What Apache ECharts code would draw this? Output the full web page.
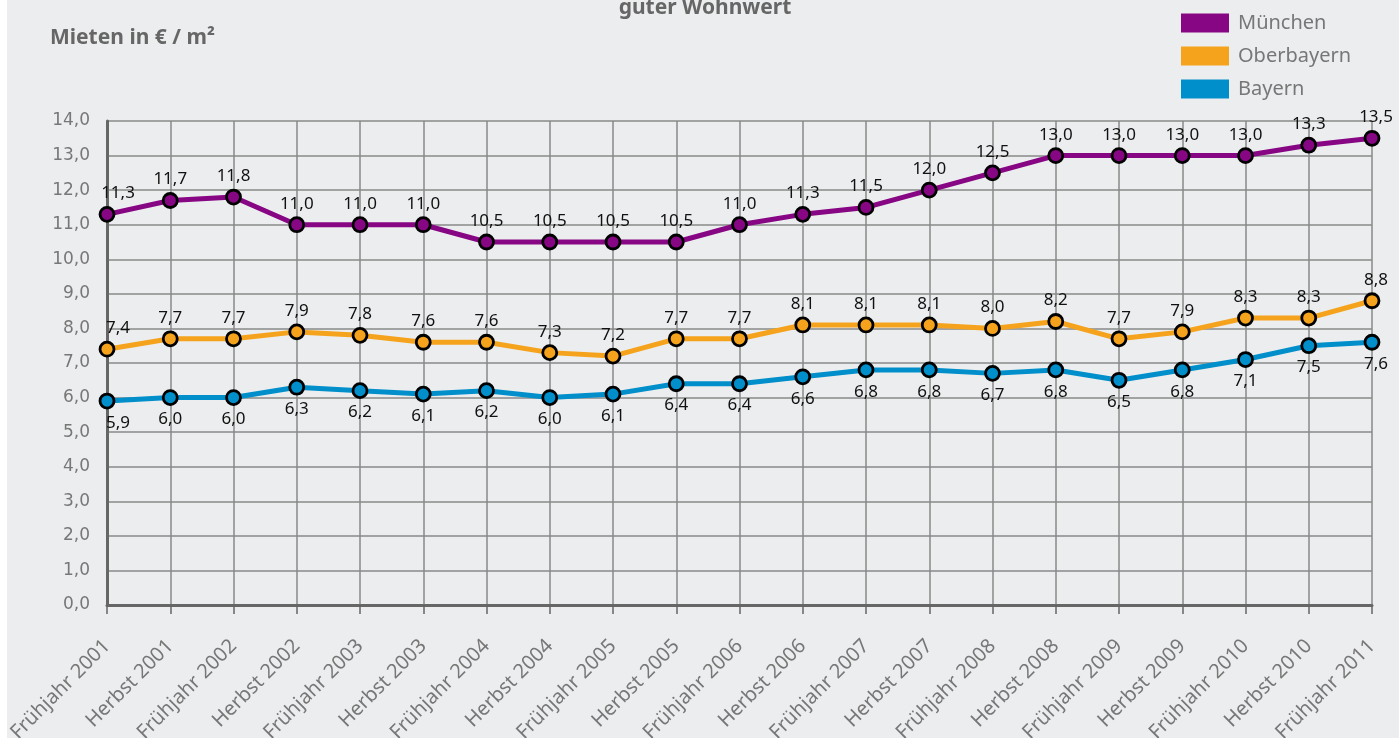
<!DOCTYPE html>
<html>
<head>
<meta charset="utf-8">
<script src="https://cdn.jsdelivr.net/npm/echarts@6/dist/echarts.min.js"></script>
<style>
  html,body{margin:0;padding:0;background:#fff;}
  #chart{position:absolute;left:7px;top:0;width:1392px;height:738px;background:#ecedef;}
</style>
</head>
<body>
<div id="chart"></div>
<script>
const chart=echarts.init(document.getElementById('chart'));

const periods=['Frühjahr 2001','Herbst 2001','Frühjahr 2002','Herbst 2002','Frühjahr 2003','Herbst 2003','Frühjahr 2004','Herbst 2004','Frühjahr 2005','Herbst 2005','Frühjahr 2006','Herbst 2006','Frühjahr 2007','Herbst 2007','Frühjahr 2008','Herbst 2008','Frühjahr 2009','Herbst 2009','Frühjahr 2010','Herbst 2010','Frühjahr 2011'];
const muenchen=[11.3,11.7,11.8,11.0,11.0,11.0,10.5,10.5,10.5,10.5,11.0,11.3,11.5,12.0,12.5,13.0,13.0,13.0,13.0,13.3,13.5];
const oberbayern=[7.4,7.7,7.7,7.9,7.8,7.6,7.6,7.3,7.2,7.7,7.7,8.1,8.1,8.1,8.0,8.2,7.7,7.9,8.3,8.3,8.8];
const bayern=[5.9,6.0,6.0,6.3,6.2,6.1,6.2,6.0,6.1,6.4,6.4,6.6,6.8,6.8,6.7,6.8,6.5,6.8,7.1,7.5,7.6];

const font='"Noto Sans", sans-serif';
const komma=v=>v.toFixed(1).replace('.',',');

function line(name,data,color,pos,dist){
  return {
    name:name,
    type:'line',
    data:data,
    symbol:'circle',
    symbolSize:14,
    lineStyle:{width:5,color:color},
    itemStyle:{color:color,borderColor:'#000',borderWidth:2.8},
    label:{
      show:true,
      position:pos,
      distance:dist,
      color:'#111',
      fontSize:17,
      fontFamily:font,
      formatter:p=>komma(p.value)
    },
    // erste Beschriftung etwas nach rechts, wie im Original
    labelLayout:p=>p.dataIndex===0?{dx:11}:(p.dataIndex===data.length-1?{dx:4}:{}),
    emphasis:{disabled:true},
    z:3
  };
}

chart.setOption({
  animation:false,
  title:[
    {text:'guter Wohnwert',left:693,top:-7,textAlign:'center',
      textStyle:{fontSize:21,fontWeight:'bold',color:'#666',fontFamily:font}},
    {text:'Mieten in € / m²',left:38,top:23,
      textStyle:{fontSize:21,fontWeight:'bold',color:'#666',fontFamily:font}}
  ],
  legend:{
    orient:'vertical',
    left:1169,
    top:8,
    icon:'rect',
    itemWidth:48,
    itemHeight:19,
    itemGap:13,
    itemStyle:{borderWidth:0},
    textStyle:{fontSize:20,lineHeight:19,color:'#777',fontFamily:font,padding:[0,0,0,4]},
    data:['München','Oberbayern','Bayern']
  },
  grid:{left:100,right:27,top:121,bottom:133,outerBoundsMode:'none'},
  xAxis:{
    type:'category',
    data:periods,
    boundaryGap:false,
    axisLine:{lineStyle:{color:'#666',width:3}},
    axisTick:{show:true,length:9,lineStyle:{color:'#666',width:1.5}},
    axisLabel:{rotate:45,interval:0,margin:38,fontSize:20,color:'#777',fontFamily:font},
    splitLine:{show:true,interval:0,lineStyle:{color:'#888',width:1.5}}
  },
  yAxis:{
    type:'value',
    min:0,
    max:14,
    interval:1,
    axisLine:{show:true,lineStyle:{color:'#666',width:3}},
    axisTick:{show:false},
    axisLabel:{margin:17,fontSize:17,color:'#777',fontFamily:'"DejaVu Sans", sans-serif',formatter:v=>komma(v)},
    splitLine:{lineStyle:{color:'#888',width:1.5}}
  },
  series:[
    line('München',muenchen,'#870683','top',4),
    line('Oberbayern',oberbayern,'#f5a31c','top',4),
    line('Bayern',bayern,'#008fca','bottom',5)
  ]
});
</script>
</body>
</html>
